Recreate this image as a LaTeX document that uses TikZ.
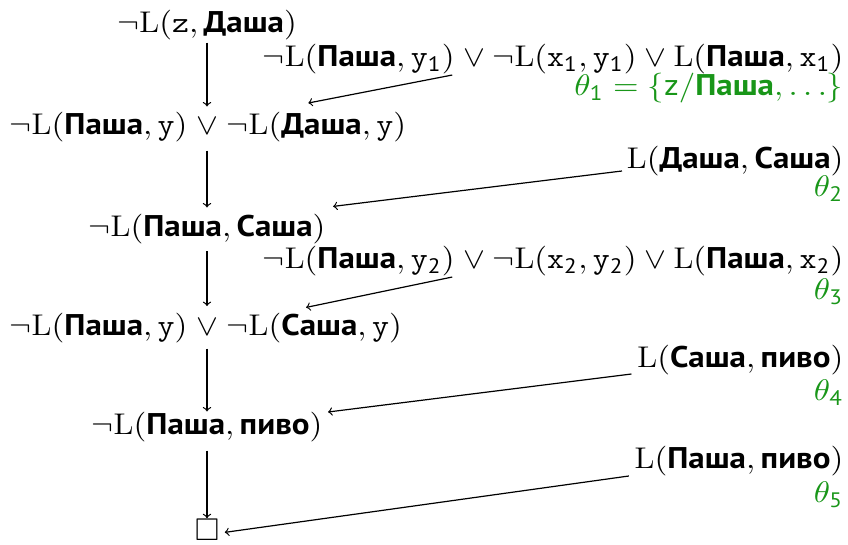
\documentclass[tikz,border=0pt]{standalone}
\usepackage{amssymb}
\usepackage{fontspec}
\setsansfont{PT Sans}
\usetikzlibrary{positioning}

\definecolor{substgreen}{RGB}{25,150,25}
\newcommand{\nm}[1]{\textsf{\bfseries #1}}
\newcommand{\vr}[2]{\mathtt{#1}_{\mathsf{#2}}}

\tikzset{
	clause/.style={inner sep=0pt, text height=8.25pt, text depth=2.75pt, font=\fontsize{11}{13}\selectfont, xscale=1.5, yscale=1.36, transform shape},
	subst/.style={inner sep=0pt, font=\fontsize{11}{13}\selectfont, xscale=1.5, yscale=1.36, transform shape, text=substgreen},
	emptybox/.style={inner sep=0pt, font=\fontsize{11}{13}\selectfont, scale=1.43, transform shape},
	res/.style={->, line width=0.6pt}
}

\begin{document}
\begin{tikzpicture}[x=0.5pt,y=-0.5pt]
	\useasboundingbox (0,0) rectangle (848,545);

	% main chain
	\node[clause, anchor=base] (n0) at (207,33){$\neg\mathrm{L}(\mathtt{z},\nm{Даша})$};
	\node[clause, anchor=base] (n1o) at (207,135){$\vee$};
	\node[clause, anchor=base east] (n1a) at ([xshift=-3.67pt]n1o.base west){$\neg\mathrm{L}(\nm{Паша},\mathtt{y})$};
	\node[clause, anchor=base west] (n1b) at ([xshift=3.67pt]n1o.base east){$\neg\mathrm{L}(\nm{Даша},\mathtt{y})$};
	\node[clause, anchor=base] (n2) at (207,237){$\neg\mathrm{L}(\nm{Паша},\nm{Саша})$};
	\node[clause, anchor=base] (n3o) at (207,336){$\vee$};
	\node[clause, anchor=base east] (n3a) at ([xshift=-3.67pt]n3o.base west){$\neg\mathrm{L}(\nm{Паша},\mathtt{y})$};
	\node[clause, anchor=base west] (n3b) at ([xshift=3.67pt]n3o.base east){$\neg\mathrm{L}(\nm{Саша},\mathtt{y})$};
	\node[clause, anchor=base] (n4) at (207,435){$\neg\mathrm{L}(\nm{Паша},\nm{пиво})$};
	\node[emptybox, anchor=base] (n5) at (207,541){$\square$};

	% side clauses
	\node[clause, anchor=base east] (c1b) at (844,67){${}\vee\neg\mathrm{L}(\vr{x}{1},\vr{y}{1})\vee\mathrm{L}(\nm{Паша},\vr{x}{1})$};
	\node[clause, anchor=base east] (c1a) at (c1b.base west){$\neg\mathrm{L}(\nm{Паша},\vr{y}{1})$};
	\node[subst, anchor=base east] (t1) at (844,96){$\theta_{\mathsf{1}}=\{\mathsf{z}/\nm{Паша},\ldots\}$};
	\node[clause, anchor=base east] (c2) at (844,169){$\mathrm{L}(\nm{Даша},\nm{Саша})$};
	\node[subst, anchor=base east] (t2) at (844,197){$\theta_{\mathsf{2}}$};
	\node[clause, anchor=base east] (c3b) at (844,269){${}\vee\neg\mathrm{L}(\vr{x}{2},\vr{y}{2})\vee\mathrm{L}(\nm{Паша},\vr{x}{2})$};
	\node[clause, anchor=base east] (c3a) at (c3b.base west){$\neg\mathrm{L}(\nm{Паша},\vr{y}{2})$};
	\node[subst, anchor=base east] (t3) at (844,300){$\theta_{\mathsf{3}}$};
	\node[clause, anchor=base east] (c4) at (844,368){$\mathrm{L}(\nm{Саша},\nm{пиво})$};
	\node[subst, anchor=base east] (t4) at (844,401){$\theta_{\mathsf{4}}$};
	\node[clause, anchor=base east] (c5) at (844,469){$\mathrm{L}(\nm{Паша},\nm{пиво})$};
	\node[subst, anchor=base east] (t5) at (844,503){$\theta_{\mathsf{5}}$};

	\draw[res] ([yshift=-0.75pt]n0.south) -- ([yshift=2.8pt]n1o.north);
	\draw[res] ([yshift=-3.75pt]n1o.south) -- ([yshift=3.3pt]n2.north);
	\draw[res] ([yshift=-3pt]n2.south) -- ([yshift=3.5pt]n3o.north);
	\draw[res] ([yshift=-2.25pt]n3o.south) -- ([yshift=0.3pt]n4.north);
	\draw[res] ([yshift=-3.75pt]n4.south) -- ([yshift=0.5pt]n5.north);

	\draw[res] ([xshift=-1.5pt]c1a.south east) -- ([shift={(-4pt,4.5pt)}]n1b.north);
	\draw[res] ([shift={(-2pt,-1pt)}]c2.base west) -- ([shift={(3.5pt,3.8pt)}]n2.north east);
	\draw[res] ([xshift=-1.5pt]c3a.south east) -- ([shift={(-4pt,2.8pt)}]n3b.north);
	\draw[res] ([shift={(-2.5pt,-3pt)}]c4.base west) -- ([shift={(2.5pt,0pt)}]n4.north east);
	\draw[res] ([shift={(-2.5pt,-3.5pt)}]c5.base west) -- ([shift={(2.5pt,-1pt)}]n5.east);
\end{tikzpicture}
\end{document}
